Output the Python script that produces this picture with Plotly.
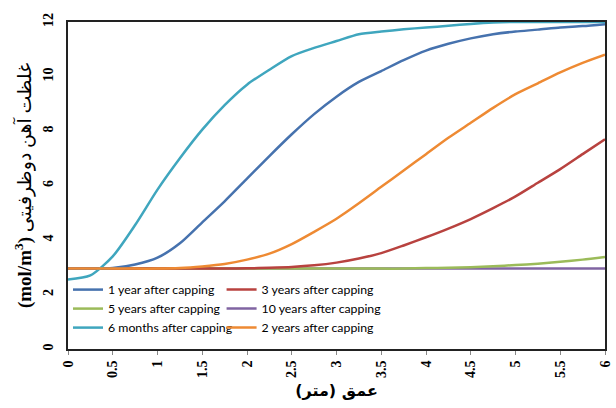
import plotly.graph_objects as go

depth = [0, 0.25, 0.5, 0.75, 1.0, 1.25, 1.5, 1.75, 2.0, 2.25, 2.5, 2.75, 3.0,
         3.25, 3.5, 3.75, 4.0, 4.25, 4.5, 4.75, 5.0, 5.25, 5.5, 5.75, 6.0]

months6 = [2.55, 2.7, 3.4, 4.55, 5.85, 7.0, 8.05, 8.95, 9.7, 10.25, 10.75, 11.05, 11.3,
           11.55, 11.65, 11.73, 11.8, 11.86, 11.93, 11.98, 12.0, 12.0, 12.0, 12.0, 12.0]
year1 = [2.95, 2.95, 2.97, 3.1, 3.35, 3.88, 4.65, 5.42, 6.25, 7.08, 7.88, 8.62, 9.26,
         9.8, 10.2, 10.6, 10.95, 11.2, 11.4, 11.55, 11.65, 11.72, 11.8, 11.85, 11.92]
year2 = [2.95, 2.95, 2.95, 2.95, 2.95, 2.97, 3.03, 3.12, 3.28, 3.5, 3.85, 4.3, 4.78,
         5.35, 5.95, 6.55, 7.15, 7.75, 8.3, 8.85, 9.35, 9.75, 10.15, 10.5, 10.8]
year3 = [2.95, 2.95, 2.95, 2.95, 2.95, 2.95, 2.95, 2.95, 2.96, 2.98, 3.01, 3.07, 3.17,
         3.32, 3.52, 3.8, 4.1, 4.42, 4.77, 5.17, 5.6, 6.1, 6.6, 7.15, 7.7]
year5 = [2.95, 2.95, 2.95, 2.95, 2.95, 2.95, 2.95, 2.95, 2.95, 2.95, 2.95, 2.95, 2.95,
         2.95, 2.95, 2.95, 2.97, 2.98, 3.0, 3.04, 3.08, 3.13, 3.2, 3.28, 3.38]
year10 = [2.95] * len(depth)

x_ticks = [0, 0.5, 1, 1.5, 2, 2.5, 3, 3.5, 4, 4.5, 5, 5.5, 6]
x_tick_labels = ["0", "0.5", "1", "1.5", "2", "2.5", "3", "3.5", "4", "4.5", "5", "5.5", "6"]
y_ticks = [0, 2, 4, 6, 8, 10, 12]

series = [
    # name, values, color, legend, rank
    ("10 years after capping", year10, "#8064A2", "legend2", 2),
    ("5 years after capping", year5, "#9BBB59", "legend", 2),
    ("3 years after capping", year3, "#B8423F", "legend2", 1),
    ("1 year after capping", year1, "#4672AE", "legend", 1),
    ("6 months after capping", months6, "#3FA6BE", "legend", 3),
    ("2 years after capping", year2, "#EE8A33", "legend2", 3),
]

fig = go.Figure()
for name, vals, color, lg, rank in series:
    fig.add_trace(go.Scatter(
        x=depth, y=vals, mode="lines", name=name,
        line=dict(color=color, width=2.5, shape="spline", smoothing=0.7),
        legend=lg, legendrank=rank,
    ))

legend_font = dict(family="Lato, 'Open Sans', sans-serif", size=12.3, color="#000000")
fig.update_layout(
    width=616, height=408,
    margin=dict(l=68, r=3, t=22, b=59),
    paper_bgcolor="white", plot_bgcolor="white",
    showlegend=True,
    legend=dict(x=0.0, y=0.226, xanchor="left", yanchor="top",
                bgcolor="rgba(0,0,0,0)", font=legend_font, tracegroupgap=0),
    legend2=dict(x=0.286, y=0.226, xanchor="left", yanchor="top",
                 bgcolor="rgba(0,0,0,0)", font=legend_font, tracegroupgap=0),
    xaxis=dict(
        range=[0, 6], tickmode="array", tickvals=x_ticks, ticktext=x_tick_labels,
        tickangle=-90, ticks="outside", ticklen=4, tickcolor="#888888",
        ticklabeloverflow="allow",
        tickfont=dict(family="'Liberation Serif', serif", size=14, color="#000000", weight="bold"),
        showline=True, linecolor="#222222", linewidth=2, mirror=True,
        showgrid=False, zeroline=False,
        title=dict(text="<b>عمق (متر)</b>", standoff=8,
                   font=dict(family="'DejaVu Sans', sans-serif", size=16, color="#000000")),
    ),
    yaxis=dict(
        range=[0, 12], tickmode="array", tickvals=y_ticks,
        tickangle=-90, ticks="", ticklabelstandoff=7,
        ticklabeloverflow="allow",
        tickfont=dict(family="'Liberation Serif', serif", size=14, color="#000000", weight="bold"),
        showline=True, linecolor="#222222", linewidth=2, mirror=True,
        showgrid=False, zeroline=False,
        title=dict(text="<b>(mol/m<sup>3</sup>)</b> غلظت آهن دوظرفیتی", standoff=5,
                   font=dict(family="'Liberation Serif', 'DejaVu Sans', serif", size=19, color="#000000")),
    ),
)

fig.write_html("out.html")
